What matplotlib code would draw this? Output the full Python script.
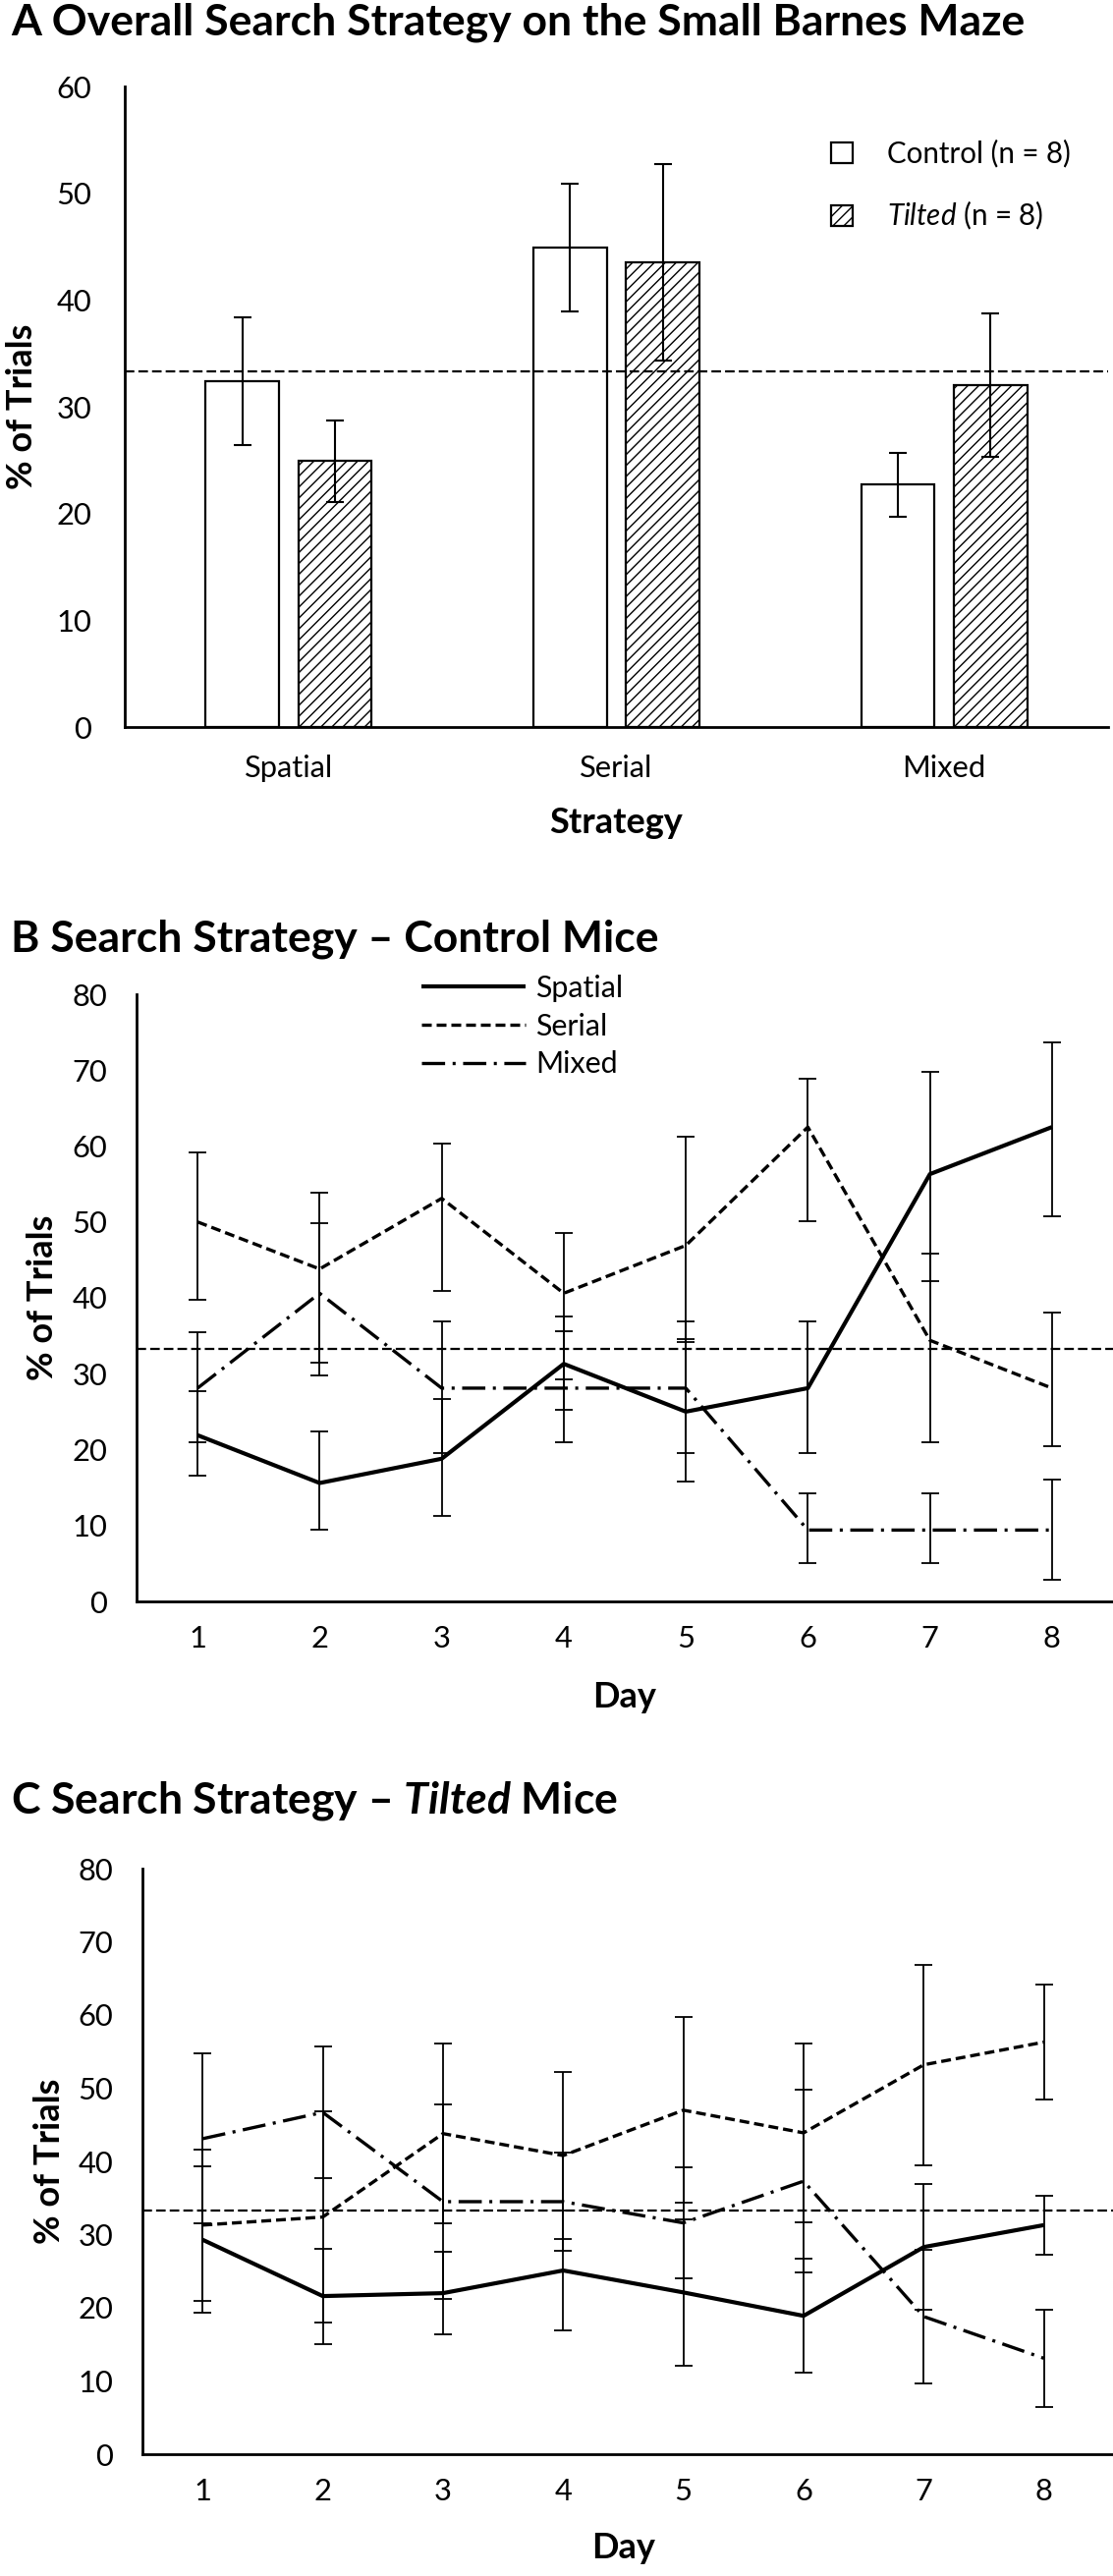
import numpy as np
import matplotlib
matplotlib.use('Agg')
import matplotlib.pyplot as plt
from matplotlib.patches import Patch

plt.rcParams['font.family'] = ['Lato', 'DejaVu Sans']
plt.rcParams['mathtext.fontset'] = 'custom'
plt.rcParams['mathtext.it'] = 'Lato:italic'
plt.rcParams['mathtext.bf'] = 'Lato:italic:bold'
plt.rcParams['hatch.linewidth'] = 1.0
plt.rcParams['lines.scale_dashes'] = False

# panel A: overall strategy (% of trials)
strategies = ['Spatial', 'Serial', 'Mixed']
control_pct = [32.4, 44.9, 22.7]
control_err = [6.0, 6.0, 3.0]
tilted_pct = [24.9, 43.5, 32.0]
tilted_err = [3.8, 9.2, 6.7]
chance = 33.3

# panel B: control mice per day
days = [1, 2, 3, 4, 5, 6, 7, 8]
b_spatial = [21.9, 15.6, 18.8, 31.3, 25.0, 28.1, 56.3, 62.5]
b_spatial_lo = [5.3, 6.1, 7.6, 6.0, 9.2, 8.6, 14.1, 11.7]
b_spatial_hi = [5.8, 6.8, 7.9, 6.2, 9.5, 8.8, 13.5, 11.1]
b_serial = [50.0, 43.8, 53.1, 40.6, 46.9, 62.5, 34.4, 28.1]
b_serial_lo = [10.3, 14.0, 12.2, 11.4, 12.7, 12.4, 13.4, 7.6]
b_serial_hi = [9.2, 10.0, 7.2, 8.0, 14.3, 6.4, 11.4, 10.0]
b_mixed = [28.1, 40.6, 28.1, 28.1, 28.1, 9.4, 9.4, 9.4]
b_mixed_lo = [7.1, 9.2, 8.6, 7.1, 8.6, 4.4, 4.4, 6.5]
b_mixed_hi = [7.4, 9.3, 8.8, 7.5, 8.8, 4.8, 4.8, 6.7]

# panel C: tilted mice per day
c_spatial = [29.3, 21.6, 22.0, 25.1, 22.1, 18.9, 28.3, 31.3]
c_spatial_err = [10.0, 6.5, 5.6, 8.2, 10.0, 7.8, 8.6, 4.0]
c_serial = [31.3, 32.4, 43.8, 40.8, 47.0, 43.9, 53.2, 56.3]
c_serial_err = [10.3, 14.4, 12.3, 11.4, 12.7, 12.2, 13.7, 7.8]
c_mixed = [43.1, 46.7, 34.5, 34.5, 31.6, 37.3, 18.8, 13.1]
c_mixed_err = [11.6, 9.0, 13.3, 6.7, 7.6, 12.5, 9.1, 6.6]

W, H = 1133, 2622
fig = plt.figure(figsize=(W / 100, H / 100), dpi=100)
renderer = fig.canvas.get_renderer()

def px_axes(left, top, right, bottom):
    return fig.add_axes([left / W, 1 - bottom / H, (right - left) / W, (bottom - top) / H])

# pick font sizes so that text widths match the reference (in pixels)
def fit_size(s, width_px, **kw):
    t = fig.text(0, 0, s, fontsize=100, **kw)
    w = t.get_window_extent(renderer).width
    t.remove()
    return 100 * width_px / w

title_fs = (fit_size('A Overall Search Strategy on the Small Barnes Maze', 1032, fontweight='bold')
            + fit_size('B Search Strategy \u2013 Control Mice', 657, fontweight='bold')) / 2
tick_fs = (fit_size('Spatial', 98) + fit_size('80', 33)) / 2
lab_fs = (fit_size('% of Trials', 168, fontweight='bold') + fit_size('Day', 65, fontweight='bold')) / 2
legA_fs = fit_size('Control (n = 8)', 187)
legB_fs = fit_size('Spatial', 89)

def px2pt(p):
    return p * 72 / 100

def style_axes(ax, ypad, xpad):
    for s in ['top', 'right']:
        ax.spines[s].set_visible(False)
    for s in ['left', 'bottom']:
        ax.spines[s].set_linewidth(2.0)
    ax.tick_params(length=0, labelsize=tick_fs)
    ax.tick_params(axis='y', pad=px2pt(ypad))
    ax.tick_params(axis='x', pad=px2pt(xpad))

chance_sty = dict(color='black', lw=1.6, dashes=(7, 3))

# ---- A ----
axA = px_axes(127, 88, 1128, 740)
x = np.arange(len(strategies))
bw = 0.224
off = 0.141
ekw = dict(fmt='none', ecolor='black', elinewidth=1.5, capsize=6.5, capthick=1.5, zorder=3)
axA.bar(x - off, control_pct, bw, color='white', edgecolor='black', linewidth=1.6, zorder=2)
axA.bar(x + off, tilted_pct, bw, color='white', edgecolor='black', linewidth=1.6, hatch='///', zorder=2)
axA.errorbar(x - off, control_pct, yerr=control_err, **ekw)
axA.errorbar(x + off, tilted_pct, yerr=tilted_err, **ekw)
axA.axhline(chance, zorder=4, **chance_sty)
axA.set_xlim(-0.5, 2.5)
axA.set_ylim(0, 60)
axA.set_yticks(range(0, 61, 10))
axA.set_xticks(x)
axA.set_xticklabels(strategies)
style_axes(axA, 34, 28)
axA.set_xlabel('Strategy', fontsize=lab_fs, fontweight='bold')
axA.xaxis.set_label_coords(0.5, -0.124)
axA.set_ylabel('% of Trials', fontsize=lab_fs, fontweight='bold')
axA.yaxis.set_label_coords(-0.088, 0.5)

legA_px = legA_fs * 100 / 72
legA = [Patch(facecolor='white', edgecolor='black', linewidth=1.6, label='Control (n = 8)'),
        Patch(facecolor='white', edgecolor='black', linewidth=1.6, hatch='///',
              label=r'$\mathit{Tilted}$ (n = 8)')]
axA.legend(handles=legA, loc='upper left', bbox_to_anchor=((846 - 127) / 1001, (740 - 142) / 652),
           frameon=False, fontsize=legA_fs, handlelength=22 / legA_px, handleheight=22 / legA_px,
           handletextpad=35 / legA_px, labelspacing=68 / legA_px - 1.2,
           borderpad=0, borderaxespad=0)

fig.text(11 / W, 1 - 23 / H, 'A Overall Search Strategy on the Small Barnes Maze',
         fontsize=title_fs, fontweight='bold', va='center', ha='left')

# ---- line panels ----
sty_spatial = dict(color='black', lw=3.0, solid_capstyle='butt')
sty_serial = dict(color='black', lw=2.4, dashes=(7.2, 3.6))
sty_mixed = dict(color='black', lw=2.4, dashes=(17, 5.5, 2.2, 5.5))
eb = dict(fmt='none', ecolor='black', elinewidth=1.3, capsize=6.5, capthick=1.3, zorder=1)

def line_panel(ax, series, label_x, label_y, xmax):
    for mean, lo, hi, sty, name in series:
        ax.errorbar(days, mean, yerr=[lo, hi], **eb)
        ax.plot(days, mean, label=name, zorder=3, **sty)
    ax.axhline(chance, zorder=2, **chance_sty)
    ax.set_xlim(0.5, xmax)
    ax.set_ylim(0, 80)
    ax.set_yticks(range(0, 81, 10))
    ax.set_xticks(days)
    style_axes(ax, 30, 24)
    ax.set_xlabel('Day', fontsize=lab_fs, fontweight='bold')
    ax.xaxis.set_label_coords(label_x, label_y)
    ax.set_ylabel('% of Trials', fontsize=lab_fs, fontweight='bold')

axB = px_axes(139, 1012, 1133, 1630)
line_panel(axB, [(b_spatial, b_spatial_lo, b_spatial_hi, sty_spatial, 'Spatial'),
                 (b_serial, b_serial_lo, b_serial_hi, sty_serial, 'Serial'),
                 (b_mixed, b_mixed_lo, b_mixed_hi, sty_mixed, 'Mixed')], 0.5, -0.131, 8.5)
axB.yaxis.set_label_coords(-0.0795, 0.5)
legB_px = legB_fs * 100 / 72
axB.legend(loc='upper left', bbox_to_anchor=((429 - 139) / 994, (1630 - 992) / 618), frameon=False,
           fontsize=legB_fs, handlelength=106 / legB_px, handletextpad=10 / legB_px,
           labelspacing=47 / legB_px - 1.2, borderpad=0, borderaxespad=0)
fig.text(11 / W, 1 - 956 / H, 'B Search Strategy \u2013 Control Mice',
         fontsize=title_fs, fontweight='bold', va='center', ha='left')

axC = px_axes(145, 1902, 1133, 2498)
line_panel(axC, [(c_spatial, c_spatial_err, c_spatial_err, sty_spatial, 'Spatial'),
                 (c_serial, c_serial_err, c_serial_err, sty_serial, 'Serial'),
                 (c_mixed, c_mixed_err, c_mixed_err, sty_mixed, 'Mixed')], 0.496, -0.1326, 8.574)
axC.yaxis.set_label_coords(-0.0787, 0.5)
fig.text(11 / W, 1 - 1833 / H, 'C Search Strategy \u2013 $\\mathbf{Tilted}$ Mice',
         fontsize=title_fs, fontweight='bold', va='center', ha='left')

fig.savefig('out.png', dpi=100, facecolor='white')
